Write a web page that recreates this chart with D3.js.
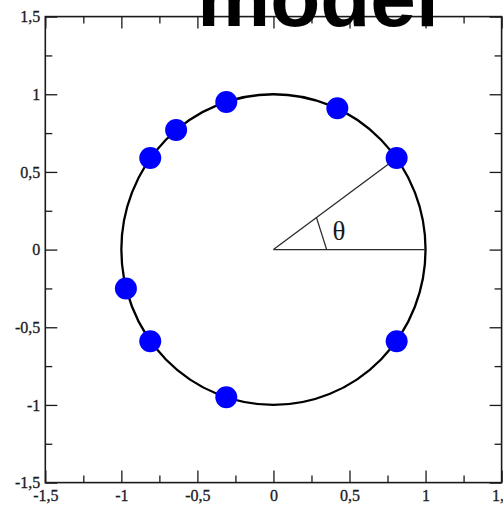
<!DOCTYPE html>
<html>
<head>
<meta charset="utf-8">
<script src="https://cdn.jsdelivr.net/npm/d3@7"></script>
<style>
  html, body { margin: 0; padding: 0; background: #fff; overflow: hidden; }
  svg { display: block; }
</style>
</head>
<body>
<script>
// Points sitting on the unit circle (x, y)
const pointX = [-0.31, -0.64, -0.81, 0.42, 0.81, -0.97, -0.81, -0.31, 0.81];
const pointY = [0.95, 0.77, 0.59, 0.91, 0.59, -0.25, -0.59, -0.95, -0.59];

// Point whose angle is marked with θ
const markedIndex = 4;
const angleMarkRadius = 0.35;
const thetaLabelPos = [0.43, 0.12];

// Axis ticks
const majorTicks = [-1.5, -1, -0.5, 0, 0.5, 1, 1.5];
const minorTicks = [-1.25, -0.75, -0.25, 0.25, 0.75, 1.25];

const titleText = "model";

const W = 503, H = 506;
const plotLeft = 45.3, plotRight = 501.6, plotTop = 16.6, plotBottom = 482.6;

const x = d3.scaleLinear().domain([-1.5, 1.5]).range([plotLeft, plotRight]);
const y = d3.scaleLinear().domain([-1.5, 1.5]).range([plotBottom, plotTop]);

const locale = d3.formatLocale({decimal: ",", thousands: ".", grouping: [3], currency: ["", ""], minus: "-"});
const fmt = locale.format("~g");

const svg = d3.select("body").append("svg").attr("width", W).attr("height", H);

const labelFont = "'Liberation Serif', 'Times New Roman', serif";
const axisColor = "#1a1a1a";

function styleAxis(g) {
  g.select(".domain").remove();
  g.selectAll(".tick line").attr("stroke", axisColor).attr("stroke-width", 1.3);
  g.selectAll(".tick text")
    .attr("fill", "#1a1a1a")
    .attr("stroke", "#1a1a1a")
    .attr("stroke-width", 0.3)
    .style("font-family", labelFont)
    .style("font-size", "16px");
}

// Bottom axis: labels plus inward major ticks
svg.append("g").attr("transform", `translate(0,${plotBottom})`)
  .call(d3.axisBottom(x).tickValues(majorTicks).tickSize(-12).tickPadding(7).tickFormat(fmt))
  .call(styleAxis);
svg.append("g").attr("transform", `translate(0,${plotBottom})`)
  .call(d3.axisBottom(x).tickValues(minorTicks).tickSize(-7).tickFormat(""))
  .call(styleAxis);

// Left axis
svg.append("g").attr("transform", `translate(${plotLeft},0)`)
  .call(d3.axisLeft(y).tickValues(majorTicks).tickSize(-12).tickPadding(5).tickFormat(fmt))
  .call(styleAxis);
svg.append("g").attr("transform", `translate(${plotLeft},0)`)
  .call(d3.axisLeft(y).tickValues(minorTicks).tickSize(-7).tickFormat(""))
  .call(styleAxis);

// Top and right axes: ticks only
svg.append("g").attr("transform", `translate(0,${plotTop})`)
  .call(d3.axisTop(x).tickValues(majorTicks).tickSize(-12).tickFormat(""))
  .call(styleAxis);
svg.append("g").attr("transform", `translate(0,${plotTop})`)
  .call(d3.axisTop(x).tickValues(minorTicks).tickSize(-7).tickFormat(""))
  .call(styleAxis);
svg.append("g").attr("transform", `translate(${plotRight},0)`)
  .call(d3.axisRight(y).tickValues(majorTicks).tickSize(-12).tickFormat(""))
  .call(styleAxis);
svg.append("g").attr("transform", `translate(${plotRight},0)`)
  .call(d3.axisRight(y).tickValues(minorTicks).tickSize(-7).tickFormat(""))
  .call(styleAxis);

// Plot frame
svg.append("rect")
  .attr("x", plotLeft).attr("y", plotTop)
  .attr("width", plotRight - plotLeft).attr("height", plotBottom - plotTop)
  .attr("fill", "none").attr("stroke", axisColor).attr("stroke-width", 1.6);

// Unit circle
svg.append("ellipse")
  .attr("cx", x(0)).attr("cy", y(0))
  .attr("rx", x(1) - x(0)).attr("ry", y(0) - y(1))
  .attr("fill", "none").attr("stroke", "#000").attr("stroke-width", 2.3);

// Angle construction
const px = pointX[markedIndex], py = pointY[markedIndex];
const ang = Math.atan2(py, px);
const lineColor = "#2a2a2a";
svg.append("line")
  .attr("x1", x(0)).attr("y1", y(0)).attr("x2", x(px)).attr("y2", y(py))
  .attr("stroke", lineColor).attr("stroke-width", 1.3);
svg.append("line")
  .attr("x1", x(0)).attr("y1", y(0)).attr("x2", x(1)).attr("y2", y(0))
  .attr("stroke", lineColor).attr("stroke-width", 1.3);
svg.append("line")
  .attr("x1", x(angleMarkRadius * Math.cos(ang))).attr("y1", y(angleMarkRadius * Math.sin(ang)))
  .attr("x2", x(angleMarkRadius)).attr("y2", y(0))
  .attr("stroke", lineColor).attr("stroke-width", 1.3);
svg.append("text")
  .attr("x", x(thetaLabelPos[0])).attr("y", y(thetaLabelPos[1]))
  .attr("text-anchor", "middle").attr("dominant-baseline", "central")
  .style("font-family", labelFont).style("font-size", "27px")
  .attr("fill", "#1a1a1a")
  .text("θ");

// Points
svg.append("g").selectAll("circle")
  .data(pointX.map((v, i) => [v, pointY[i]]))
  .join("circle")
  .attr("cx", d => x(d[0])).attr("cy", d => y(d[1]))
  .attr("r", 11)
  .attr("fill", "#0000ff");

// Title
svg.append("text")
  .attr("x", 318).attr("y", 26)
  .attr("text-anchor", "middle")
  .style("font-family", "'Liberation Sans', Arial, sans-serif")
  .style("font-weight", "bold")
  .style("font-size", "82px")
  .attr("fill", "#000")
  .text(titleText);
</script>
</body>
</html>
